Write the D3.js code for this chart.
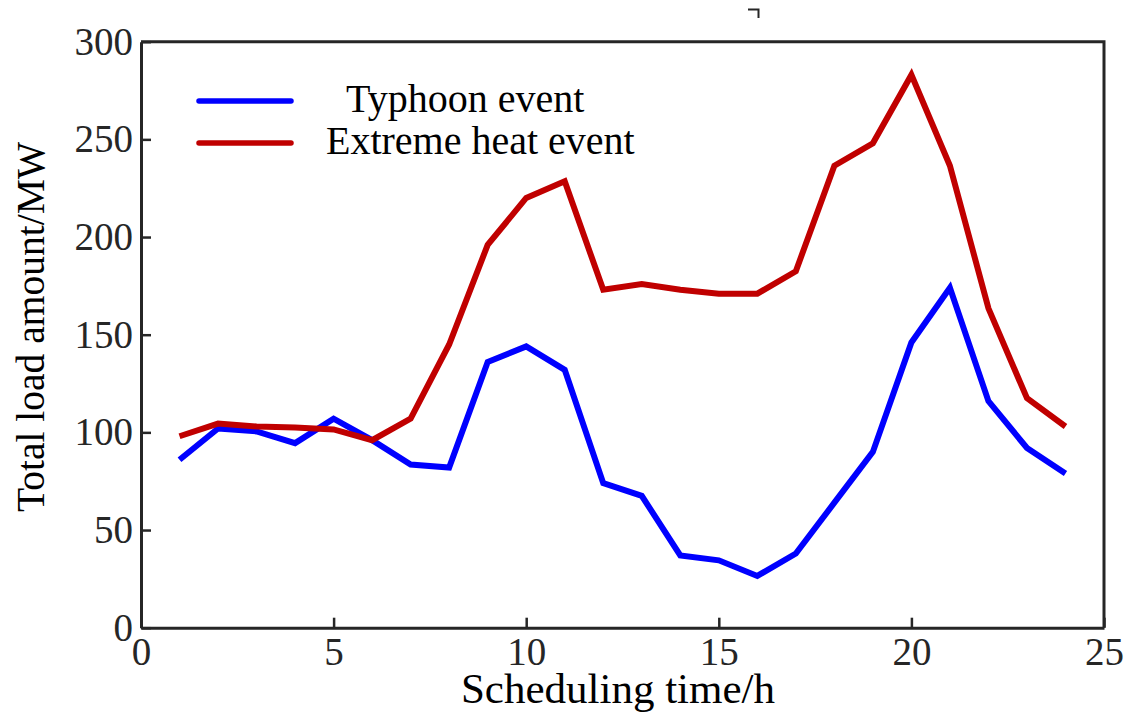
<!DOCTYPE html>
<html>
    <head>
        <meta charset="utf-8">
        <title>Total load amount</title>
        <style>
            body { margin: 0; background: #fff; }
            svg text { font-family: "Liberation Serif", "Times New Roman", serif; }
            .tick text { font-size: 39px; fill: #262626; }
        </style>
    </head>
    <body>
        <svg width="1139" height="725"></svg>

        <script src="https://d3js.org/d3.v7.min.js"></script>
        <script>
            // scheduling hours and load values
            var hours = [1, 2, 3, 4, 5, 6, 7, 8, 9, 10, 11, 12, 13, 14, 15, 16, 17, 18, 19, 20, 21, 22, 23, 24];
            var typhoon = [86, 102, 100.5, 94.5, 107, 96, 83.5, 82, 136, 144, 132, 74, 67.5, 37, 34.5, 26.5, 38, 64, 90, 146, 174, 116, 92, 79];
            var heat = [98, 104.5, 103, 102.5, 101.5, 96, 107, 145, 196, 220, 228.5, 173, 176, 173, 171, 171, 182.5, 236.5, 248, 283, 236.5, 163.5, 117.5, 103];
            var xTicks = [0, 5, 10, 15, 20, 25];
            var yTicks = [0, 50, 100, 150, 200, 250, 300];
            var seriesNames = ["Typhoon event", "Extreme heat event"];
            var seriesColors = ["#0000ff", "#c00000"];

            var svg = d3.select("svg"),
                pLeft = 141, pRight = 1104, pTop = 41.7, pBottom = 627.7;

            var x = d3.scaleLinear().domain([0, 25]).range([pLeft, pRight]);
            var y = d3.scaleLinear().domain([0, 300]).range([pBottom, pTop]);

            // box
            svg.append("path")
                .attr("d", "M" + pLeft + "," + pTop + "H" + pRight + "V" + pBottom)
                .attr("fill", "none")
                .attr("stroke", "#262626")
                .attr("stroke-width", 3);

            // axes, ticks pointing inward
            var xAxis = svg.append("g")
                .attr("transform", "translate(0," + pBottom + ")")
                .call(d3.axisBottom(x).tickValues(xTicks).tickSizeInner(-10).tickSizeOuter(0).tickPadding(10));
            var yAxis = svg.append("g")
                .attr("transform", "translate(" + pLeft + ",0)")
                .call(d3.axisLeft(y).tickValues(yTicks).tickSizeInner(-10).tickSizeOuter(0).tickPadding(8));

            [xAxis, yAxis].forEach(function(a) {
                a.select(".domain").attr("stroke", "#262626").attr("stroke-width", 3);
                a.selectAll(".tick line").attr("stroke", "#262626").attr("stroke-width", 2.5);
            });
            xAxis.selectAll(".tick text").attr("dy", "0.71em");

            // lines
            var line = d3.line()
                .x(function(d, i) { return x(hours[i]); })
                .y(function(d) { return y(d); });

            [typhoon, heat].forEach(function(s, i) {
                svg.append("path")
                    .datum(s)
                    .attr("d", line)
                    .attr("fill", "none")
                    .attr("stroke", seriesColors[i])
                    .attr("stroke-width", 6)
                    .attr("stroke-linejoin", "miter");
            });

            // legend
            var legend = svg.append("g");
            var legendY = [101, 143], legendTextX = [346, 326];
            seriesNames.forEach(function(name, i) {
                legend.append("line")
                    .attr("x1", 199).attr("x2", 291)
                    .attr("y1", legendY[i]).attr("y2", legendY[i])
                    .attr("stroke", seriesColors[i])
                    .attr("stroke-width", 5.5)
                    .attr("stroke-linecap", "round");
                legend.append("text")
                    .attr("x", legendTextX[i])
                    .attr("y", legendY[i] + 11)
                    .attr("font-size", 40)
                    .attr("fill", "#000")
                    .text(name);
            });

            // axis titles
            svg.append("text")
                .attr("x", 618)
                .attr("y", 703)
                .attr("text-anchor", "middle")
                .attr("font-size", 43)
                .text("Scheduling time/h");

            svg.append("text")
                .attr("transform", "translate(44,327) rotate(-90)")
                .attr("text-anchor", "middle")
                .attr("font-size", 39.5)
                .text("Total load amount/MW");

            // small stray corner mark above the plot
            svg.append("path")
                .attr("d", "M748,9.5H758.5V18")
                .attr("fill", "none")
                .attr("stroke", "#262626")
                .attr("stroke-width", 2);
        </script>
    </body>
</html>
